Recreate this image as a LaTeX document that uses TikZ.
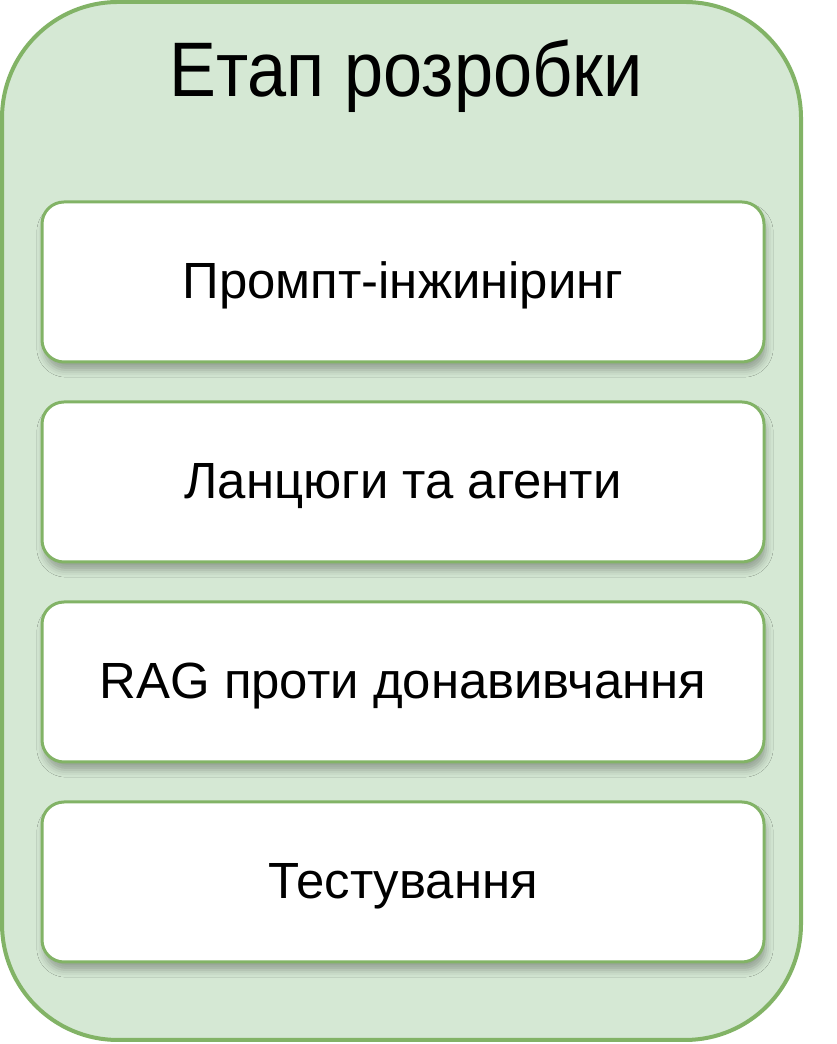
\documentclass[tikz,border=0pt]{standalone}
\usepackage{fontspec}
\setmainfont{Liberation Sans}
\usetikzlibrary{shadows.blur}
\definecolor{stagefill}{HTML}{D5E8D4}
\definecolor{stageline}{HTML}{82B366}
\tikzset{
  stage/.style={draw=stageline, line width=1mm, fill=stagefill, rounded corners=29mm},
  task/.style={draw=stageline, line width=0.75mm, fill=white, rounded corners=5.5mm,
    minimum width=180.5mm, minimum height=40mm, text height=9.5mm, text depth=1.3mm,
    blur shadow={shadow xshift=0.5mm, shadow yshift=-2mm, shadow blur radius=1.8mm, shadow opacity=30},
    font=\fontsize{36.2}{43}\selectfont}
}
\begin{document}
\begin{tikzpicture}
    \useasboundingbox (0mm,0mm) rectangle (209mm,261mm);
    \draw[stage] (0.5mm,1mm) rectangle (200.25mm,260.5mm);
    \node[anchor=base, font=\fontsize{50}{60}\selectfont] (title) at (101.5mm,236.8mm)
        {\scalebox{1}[1.1]{Етап розробки}};

    \foreach\y/\txt [count=\i] in {190.5/Промпт-інжиніринг, 140.5/Ланцюги та агенти,
        90.5/RAG проти донавивчання, 40.5/Тестування}
    {   \node[task] (task\i) at (100.75mm,\y mm) {\txt};
    }
\end{tikzpicture}
\end{document}
